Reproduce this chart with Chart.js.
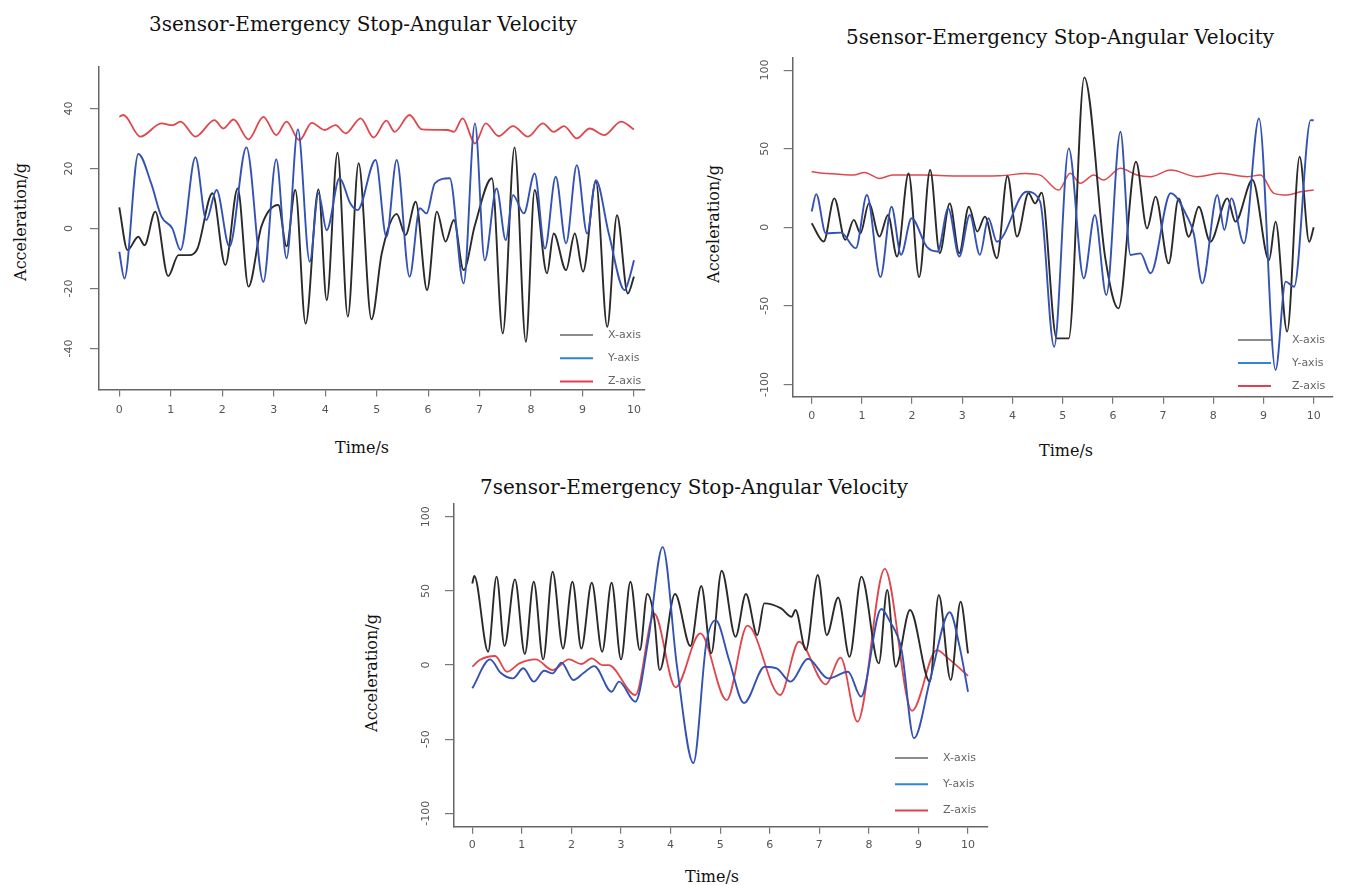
<!DOCTYPE html>
<html>
<head>
<meta charset="utf-8">
<script src="https://cdn.jsdelivr.net/npm/chart.js@4.4.1/dist/chart.umd.min.js"></script>
<style>
  html, body { margin: 0; padding: 0; background: #fff; }
  body { width: 1369px; height: 885px; position: relative; overflow: hidden; }
  canvas { position: absolute; left: 0; top: 0; }
  .txt { position: absolute; font-family: "DejaVu Serif", serif; color: #111; white-space: nowrap; transform: translate(-50%, -50%); }
  .title { font-size: 20px; }
  .xt { font-size: 16px; }
  .yt { font-size: 16px; transform: translate(-50%, -50%) rotate(-90deg); }
</style>
</head>
<body>
<div class="txt title" style="left:363px;top:24px">3sensor-Emergency Stop-Angular Velocity</div>
<div class="txt title" style="left:1060px;top:37px">5sensor-Emergency Stop-Angular Velocity</div>
<div class="txt title" style="left:694px;top:487px">7sensor-Emergency Stop-Angular Velocity</div>
<div class="txt yt" style="left:20px;top:222px">Acceleration/g</div>
<div class="txt yt" style="left:713px;top:224px">Acceleration/g</div>
<div class="txt yt" style="left:371px;top:673px">Acceleration/g</div>
<div class="txt xt" style="left:362px;top:447px">Time/s</div>
<div class="txt xt" style="left:1066px;top:450px">Time/s</div>
<div class="txt xt" style="left:712px;top:876px">Time/s</div>
<canvas id="c3" width="1369" height="885"></canvas>
<canvas id="c5" width="1369" height="885"></canvas>
<canvas id="c7" width="1369" height="885"></canvas>
<script>
// tick labels
const timeTicks = [0, 1, 2, 3, 4, 5, 6, 7, 8, 9, 10];
const yTicks3 = [-40, -20, 0, 20, 40];
const yTicks5 = [-100, -50, 0, 50, 100];
const yTicks7 = [-100, -50, 0, 50, 100];
const seriesNames = ['X-axis', 'Y-axis', 'Z-axis'];

// 3sensor (read at peaks / troughs)
const s3XTime = [0,0.16,0.37,0.49,0.70,0.95,1.15,1.36,1.52,1.81,2.06,2.30,2.51,2.76,3.09,3.25,3.42,3.62,3.87,4.03,4.24,4.44,4.65,4.90,5.10,5.39,5.56,5.76,5.98,6.17,6.34,6.50,6.69,6.91,7.24,7.45,7.68,7.90,8.07,8.31,8.44,8.68,8.85,9.01,9.26,9.48,9.67,9.88,10];
const s3XVal = [7,-7.2,-2.8,-5.6,5.6,-15.9,-8.9,-8.9,-6.7,11.7,-12.2,13.3,-19.4,0.6,7.8,-6,12.8,-31.7,13,-23.9,25.2,-29.4,21.7,-30.3,-8.3,4.8,-2.2,8.9,-20.6,5.6,-4.4,2.8,-13.9,1.1,16.7,-35,27,-37.8,12.8,-15,-1.7,-13.9,-1.7,-14.4,15.6,-32.8,4.4,-21.7,-16.1];
const s3YTime = [0,0.10,0.37,0.62,0.82,1.03,1.19,1.48,1.69,1.89,2.14,2.47,2.80,3.05,3.25,3.47,3.70,3.87,4.03,4.28,4.49,4.63,4.98,5.19,5.39,5.64,5.84,5.97,6.13,6.42,6.69,6.91,7.10,7.33,7.51,7.65,7.86,8.07,8.27,8.48,8.68,8.89,9.09,9.26,9.51,9.82,9.92,10];
const s3YVal = [-7.8,-16.7,24.8,15,3.9,0,-7.2,23.7,2.8,12.8,-6.1,27,-17.8,23,-10,33,-11.1,11.7,-0.6,16.7,8.3,6.1,22.8,-2.8,22.8,-16.1,6.7,5,15,16.7,-18.3,35,-10.6,13.3,-3.9,11.1,5,18.3,-6.7,17.2,-5,21.1,-1.7,16.1,-1.7,-20.6,-16,-10.6];
const s3ZTime = [0,0.08,0.41,0.82,1.03,1.19,1.48,1.85,2.02,2.22,2.51,2.80,3.05,3.25,3.50,3.74,3.99,4.20,4.40,4.69,4.94,5.19,5.35,5.64,5.88,6.38,6.50,6.67,6.91,7.12,7.37,7.65,7.94,8.23,8.44,8.64,8.89,9.14,9.42,9.75,10];
const s3ZVal = [37.2,37.8,30.6,35,34.4,35.6,30.6,36.1,33.3,36.3,29.7,37.2,31.1,35.6,29.4,35.2,32.8,34.4,31.7,36.7,30.3,35.9,32.2,37.8,33,32.8,32.2,36.7,28.3,35,30.8,34.1,30.6,35,32.2,34.1,30,33.3,31.1,35.6,33];

// 5sensor
const s5XTime = [0,0.24,0.45,0.67,0.84,0.97,1.14,1.35,1.52,1.70,1.93,2.14,2.36,2.55,2.75,2.94,3.13,3.30,3.45,3.69,3.90,4.09,4.32,4.45,4.58,4.88,5.12,5.43,5.85,6.11,6.46,6.68,6.85,7.11,7.31,7.51,7.71,7.94,8.28,8.44,8.78,9.11,9.24,9.47,9.72,9.91,10];
const s5XVal = [2.5,-9.1,18.4,-8,4.7,-3.8,15.2,-5.9,7.8,-18.6,34.2,-31.7,36.4,-16.5,15.2,-16.5,13.1,-2.7,6.8,-19.7,32.6,-5.9,21.6,15.2,22,-70.7,-70.7,95.4,-20,-51.6,41.7,-0.7,19.5,-23,18.4,-6,13.1,-9.2,18.4,3.6,30.1,-20.8,3.6,-66.4,44.9,-9.2,0];
const s5YTime = [0,0.09,0.28,0.58,0.88,1.10,1.37,1.59,1.78,1.99,2.29,2.51,2.72,2.94,3.15,3.35,3.52,3.69,4.28,4.55,4.83,5.12,5.42,5.64,5.87,6.15,6.35,6.55,6.75,7.15,7.48,7.61,7.78,8.08,8.22,8.36,8.61,8.91,9.24,9.44,9.61,9.94,10];
const s5YVal = [10,21.1,-3.8,-3.4,-13.3,20.5,-31.7,13.1,-17.5,5.7,-12.3,-15.4,12,-18.6,7.8,-17.5,5.7,-9.2,22.6,16.3,-76,50.2,-32.5,7.8,-43.1,60.8,-17.6,-16.6,-29.3,21.6,6.7,-4,-35.7,20.5,-1.7,18.4,-10.2,69.3,-90.8,-34.6,-37.8,68.2,68];
const s5ZTime = [0,0.33,0.84,1.05,1.35,1.61,2.21,2.89,3.75,4.26,4.55,4.92,5.15,5.35,5.62,5.81,6.15,6.48,6.75,7.15,7.68,8.14,8.68,8.94,9.21,9.47,9.74,10];
const s5ZVal = [35.3,34.2,33.2,34.9,31.1,33.2,33.2,32.6,32.8,34.2,33.2,23.7,34.3,28,33.2,30,37.5,33.2,32.2,36.4,32.2,34.3,32.2,33.2,21.6,20.5,22.6,23.7];

// 7sensor
const s7XTime = [0,0.04,0.32,0.49,0.65,0.86,1.06,1.24,1.43,1.62,1.83,2.02,2.20,2.41,2.62,2.81,3.00,3.19,3.38,3.53,3.67,3.78,4.09,4.40,4.62,4.82,5.03,5.31,5.52,5.75,5.89,6.23,6.44,6.52,6.73,6.97,7.15,7.38,7.61,7.85,8.20,8.37,8.54,8.83,9.23,9.41,9.65,9.85,10];
const s7XVal = [55,60,9,59.6,12.8,57.8,7.4,56.2,3.8,62.9,11.2,56.2,11.2,55.5,9,55.5,3.8,56.2,10.1,47.9,31.5,-3.4,47.9,12.8,53.3,7.9,63.6,19.1,47.9,20.2,41.6,38.2,32.6,37.1,10.1,60.7,20.2,45.6,5.6,59.6,1.1,50.6,-1.1,37.1,-11.2,47.2,-10.1,42.7,7.9];
const s7YTime = [0,0.36,0.57,0.82,1.03,1.24,1.45,1.62,1.80,2.04,2.25,2.46,2.81,2.96,3.29,3.55,3.84,4.13,4.46,4.72,4.91,5.18,5.48,5.90,6.14,6.42,6.77,7.18,7.58,7.84,8.25,8.41,8.66,8.91,9.25,9.63,9.83,10];
const s7YVal = [-15.7,3.8,-5.2,-9,-2.2,-11.2,-3.8,-5.6,1.6,-10.1,-5.2,-0.7,-18,-11.2,-24.7,16.9,79.5,-1.1,-66,14.6,30.3,3.4,-25.6,-1.1,-2.2,-11.2,4.2,-9,-4.5,-21.3,37.8,30.3,10.1,-49.4,-7.9,35.6,12.4,-18];
const s7ZTime = [0,0.15,0.46,0.70,0.95,1.28,1.62,1.95,2.20,2.41,2.62,2.75,3.29,3.67,4.10,4.60,5.13,5.55,6.21,6.59,7.13,7.43,7.77,8.32,8.87,9.37,9.60,10];
const s7ZVal = [-1.1,3.4,6.1,-4.5,1.1,3.8,-3.4,3.8,0.7,4.5,0,0,-20.2,34.6,-15,21.3,-23.6,26.6,-20.2,15.7,-13,5,-38.2,64.8,-30.8,10,4.5,-7.3];

const pts = (ts, vs) => ts.map((t, i) => ({ x: t, y: vs[i] }));

// tick labels (rotated on y like R) + legend inside the plot
const rStyle = {
  id: 'rStyle',
  afterDraw(chart, args, o) {
    const { ctx, scales: { x, y } } = chart;
    ctx.save();
    ctx.font = '11px "DejaVu Sans"';
    ctx.fillStyle = '#555';
    ctx.textAlign = 'center';
    ctx.textBaseline = 'middle';
    x.ticks.forEach(t => ctx.fillText(String(t.value), x.getPixelForValue(t.value), o.xLabelY));
    y.ticks.forEach(t => {
      ctx.save();
      ctx.translate(o.yLabelX, y.getPixelForValue(t.value));
      ctx.rotate(-Math.PI / 2);
      ctx.fillText(String(t.value), 0, 0);
      ctx.restore();
    });

    const legCols = ['#8c8c8c', '#2f86d6', '#e0404f'];
    ctx.textAlign = 'left';
    ctx.fillStyle = '#666';
    ctx.lineWidth = 2;
    chart.data.datasets.forEach((d, i) => {
      const ly = o.legY + i * o.legDy;
      ctx.strokeStyle = legCols[i];
      ctx.beginPath();
      ctx.moveTo(o.legX0, ly);
      ctx.lineTo(o.legX1, ly);
      ctx.stroke();
      ctx.fillText(d.label, o.legTx, ly);
    });
    ctx.restore();
  }
};

function axisOpts(min, max, ticks, tickLen, fit) {
  return {
    type: 'linear',
    min: min,
    max: max,
    afterBuildTicks: s => { s.ticks = ticks.map(v => ({ value: v })); },
    afterFit: fit,
    ticks: { display: false },
    grid: { drawOnChartArea: false, drawTicks: true, tickLength: tickLen, color: '#777', lineWidth: 1.2 },
    border: { display: true, color: '#666', width: 1.5 }
  };
}

function makeChart(id, sets, pad, xr, yr, yTicks, labelOpts) {
  return new Chart(document.getElementById(id), {
    type: 'line',
    data: {
      datasets: sets.map((s, i) => ({
        label: seriesNames[i],
        data: s.data,
        borderColor: s.color,
        borderWidth: s.width,
        order: s.order,
        pointRadius: 0,
        fill: false
      }))
    },
    options: {
      responsive: false,
      animation: false,
      devicePixelRatio: 1,
      layout: { padding: pad },
      elements: { line: { tension: 0.4, cubicInterpolationMode: 'monotone', borderJoinStyle: 'round' } },
      plugins: { legend: { display: false }, tooltip: { enabled: false }, rStyle: labelOpts },
      scales: {
        x: axisOpts(xr[0], xr[1], timeTicks, 7, s => { s.height = 30; }),
        y: axisOpts(yr[0], yr[1], yTicks, 9, s => { s.width = 40; })
      }
    },
    plugins: [rStyle]
  });
}

const black = '#2a2a2a', blue = '#3452b4', red = '#e0474c';

makeChart('c3', [
  { data: pts(s3XTime, s3XVal), color: black, width: 1.9, order: 1 },
  { data: pts(s3YTime, s3YVal), color: blue, width: 1.9, order: 0 },
  { data: pts(s3ZTime, s3ZVal), color: red, width: 1.8, order: 2 }
], { left: 59, top: 66.7, right: 724, bottom: 465.5 }, [-0.394, 10.214], [-53.7, 53.9], yTicks3,
  { xLabelY: 410, yLabelX: 69, legX0: 560, legX1: 593, legTx: 608, legY: 335, legDy: 23.3 });

makeChart('c5', [
  { data: pts(s5XTime, s5XVal), color: black, width: 1.9, order: 1 },
  { data: pts(s5YTime, s5YVal), color: blue, width: 1.9, order: 0 },
  { data: pts(s5ZTime, s5ZVal), color: red, width: 1.5, order: 2 }
], { left: 752.7, top: 58, right: 36, bottom: 458.3 }, [-0.378, 10.384], [-107.8, 107.7], yTicks5,
  { xLabelY: 416, yLabelX: 765, legX0: 1238, legX1: 1271, legTx: 1292, legY: 340, legDy: 23 });

makeChart('c7', [
  { data: pts(s7XTime, s7XVal), color: black, width: 1.9, order: 1 },
  { data: pts(s7YTime, s7YVal), color: blue, width: 1.9, order: 0 },
  { data: pts(s7ZTime, s7ZVal), color: red, width: 1.8, order: 2 }
], { left: 414, top: 504, right: 381, bottom: 28.3 }, [-0.369, 10.403], [-109, 108.6], yTicks7,
  { xLabelY: 845, yLabelX: 426, legX0: 895, legX1: 928, legTx: 943, legY: 758, legDy: 26.3 });
</script>
</body>
</html>
